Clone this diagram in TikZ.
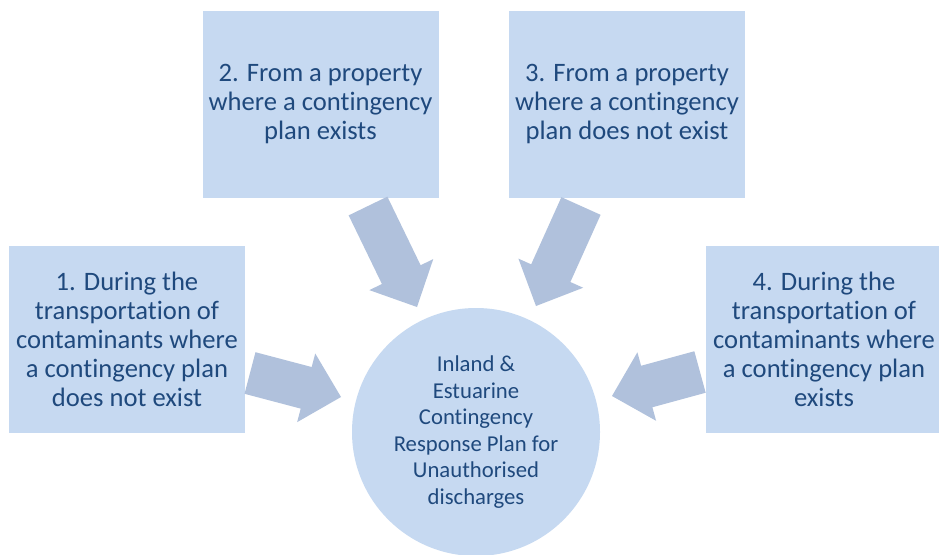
\documentclass[tikz,border=0pt]{standalone}
\usepackage{fontspec}
\setmainfont{Carlito}[Ligatures=NoCommon]
\usetikzlibrary{calc}
\definecolor{boxblue}{HTML}{C6D9F1}
\definecolor{arrowblue}{HTML}{B0C1DC}
\definecolor{textblue}{HTML}{1F497D}
\tikzset{
        box/.style={rectangle, fill=boxblue, text=textblue, minimum width=236pt, minimum height=187pt, inner sep=0pt, align=center, font=\fontsize{26.6}{29}\selectfont},
        hub/.style={circle, fill=boxblue, text=textblue, minimum size=248pt, inner sep=0pt, align=center, font=\fontsize{22.7}{26.6}\selectfont},
        flow/.style={fill=arrowblue}
          }
% block arrow from #1 to #2, tip at #2
\newcommand\blockarrow[2]{%
  \coordinate (#1h) at ($(#2)!36pt!(#1)$);
  \fill[flow] ($(#1)!21.5pt!90:(#2)$) -- ($(#1h)!21.5pt!90:(#2)$) -- ($(#1h)!35.5pt!90:(#2)$)
    -- (#2) -- ($(#1h)!35.5pt!-90:(#2)$) -- ($(#1h)!21.5pt!-90:(#2)$) -- ($(#1)!21.5pt!-90:(#2)$) -- cycle;
}
\begin{document}
\begin{tikzpicture}[x=1pt, y=-1pt]
        \clip (0,0) rectangle (939,554);
        \fill[white] (0,0) rectangle (939,554);
        % source boxes
        \node[box] (trans1) at (127,339.5) {1. During the\\transportation of\\contaminants where\\a contingency plan\\does not exist};
        \node[box] (prop2) at (320.5,104.5) {2. From a property\\where a contingency\\plan exists};
        \node[box] (prop3) at (627,104.5) {3. From a property\\where a contingency\\plan does not exist};
        \node[box] (trans4) at (824,339.5) {4. During the\\transportation of\\contaminants where\\a contingency plan\\exists};
        % the plan
        \node[hub] (plan) at (476,432) {Inland \&\\Estuarine\\Contingency\\Response Plan for\\Unauthorised\\discharges};
        % arrow ends
        \coordinate (from1) at (250,373);
        \coordinate (to1) at (341,397);
        \coordinate (from2) at (368,206);
        \coordinate (to2) at (417,307);
        \coordinate (from3) at (581,206);
        \coordinate (to3) at (536,306);
        \coordinate (from4) at (700,372);
        \coordinate (to4) at (612,396);
        \blockarrow{from1}{to1}
        \blockarrow{from2}{to2}
        \blockarrow{from3}{to3}
        \blockarrow{from4}{to4}
\end{tikzpicture}
\end{document}
